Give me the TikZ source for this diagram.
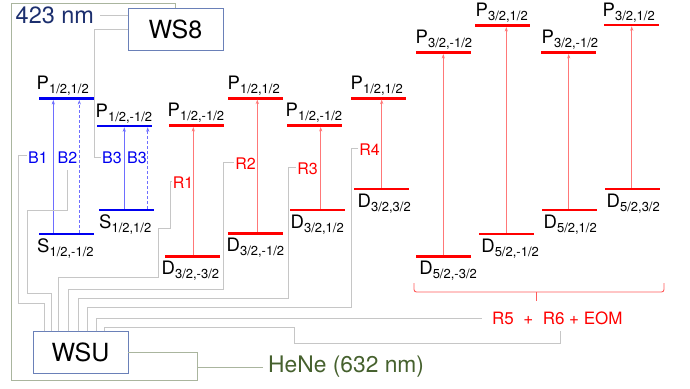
\documentclass[tikz,border=0pt]{standalone}
\usepackage{fontspec}
\setmainfont{TeX Gyre Heros}
\usetikzlibrary{arrows.meta}

\definecolor{wiregray}{HTML}{C6C6C6}
\definecolor{wiregreen}{HTML}{AAB59E}
\definecolor{boxblue}{HTML}{6A80B8}
\definecolor{labnavy}{HTML}{1C2F6E}
\definecolor{labolive}{HTML}{46612E}
\definecolor{lvred}{HTML}{FF0000}
\definecolor{lvblue}{HTML}{0000F0}
\definecolor{arred}{HTML}{FF7878}
\definecolor{arblue}{HTML}{6E6EFF}
\definecolor{brred}{HTML}{FF5A5A}

% state label: letter with a lowered, smaller subscript
\newcommand\statelab[2]{#1\raisebox{-4pt}{\fontsize{13}{13}\selectfont#2}}

\tikzset{
  stateline/.style={draw=none, fill=#1, minimum width=55pt, minimum height=2.6pt,
    inner sep=0pt, outer sep=0pt, anchor=west},
  lvR/.style={stateline=lvred},
  lvB/.style={stateline=lvblue},
  slab/.style={anchor=base west, inner sep=0pt, font=\fontsize{18.5}{18.5}\selectfont},
  tlab/.style={inner sep=1pt, font=\fontsize{16}{16}\selectfont},
  blab/.style={tlab, text=lvblue},
  rlab/.style={tlab, text=lvred},
  arR/.style={color=arred, line width=1pt, -{Stealth[length=4.5pt,width=3.2pt]}},
  arB/.style={color=arblue, line width=1pt, -{Stealth[length=4.5pt,width=3.2pt]}},
  arBd/.style={arB, dash pattern=on 3pt off 2pt},
  wire/.style={draw=wiregray, line width=0.8pt},
  gwire/.style={draw=wiregreen, line width=0.8pt},
  devbox/.style={draw=boxblue, line width=0.9pt, minimum width=95pt, minimum height=41.5pt,
    inner sep=0pt, font=\fontsize{25}{25}\selectfont},
}

\begin{document}
\begin{tikzpicture}[x=1pt,y=-1pt]
\useasboundingbox (0,0) rectangle (690,388);

% instruments
\node[devbox] (ws8) at (175.5,29.25) {WS8};
\node[devbox] (wsu) at (80.5,352.5) {WSU};
\node[anchor=west, inner sep=0pt, text=labnavy, font=\fontsize{23.5}{23.5}\selectfont] (n423) at (15.5,15) {423 nm};
\node[anchor=west, inner sep=0pt, text=labolive, font=\fontsize{22.8}{22.8}\selectfont] (hene) at (268,367) {HeNe (632 nm)};
\node[anchor=west, inner xsep=10pt, inner ysep=0pt, text=lvred, font=\fontsize{17}{17}\selectfont] (r56) at (482,318) {R5\ \ +\ \ R6 + EOM};
\coordinate (r6foot) at (560,331);

% blue levels (S1/2 -> P1/2)
\node[lvB] (bP1) at (39,98.7) {};
\node[lvB] (bP2) at (97,126) {};
\node[lvB] (bS1) at (39,234) {};
\node[lvB] (bS2) at (99,210) {};

% red levels (D3/2 -> P1/2)
\node[lvR] (rP1) at (169,125.7) {};
\node[lvR] (rD1) at (165,256.7) {};
\node[lvR] (rP2) at (228,98.3) {};
\node[lvR] (rD2) at (228,233.3) {};
\node[lvR] (rP3) at (287,125.7) {};
\node[lvR] (rD3) at (290,210) {};
\node[lvR] (rP4) at (351,98.3) {};
\node[lvR] (rD4) at (354,189) {};

% red levels (D5/2 -> P3/2)
\node[lvR] (qP1) at (416,52.7) {};
\node[lvR] (qD1) at (416,256.7) {};
\node[lvR] (qP2) at (475,25.7) {};
\node[lvR] (qD2) at (479,234) {};
\node[lvR] (qP3) at (541,52.7) {};
\node[lvR] (qD3) at (542,210) {};
\node[lvR] (qP4) at (604,25) {};
\node[lvR] (qD4) at (605,189) {};

% level names
\node[slab] (tbP1) at ([shift={(-2.5pt,8.8pt)}]bP1.west) {\statelab{P}{1/2,1/2}};
\node[slab] (tbP2) at ([shift={(-1.5pt,8.8pt)}]bP2.west) {\statelab{P}{1/2,-1/2}};
\node[slab] (tbS1) at ([shift={(-2pt,-18pt)}]bS1.west) {\statelab{S}{1/2,-1/2}};
\node[slab] (tbS2) at ([shift={(0pt,-18pt)}]bS2.west) {\statelab{S}{1/2,1/2}};

\node[slab] (trP1) at ([shift={(-1.5pt,8.8pt)}]rP1.west) {\statelab{P}{1/2,-1/2}};
\node[slab] (trP2) at ([shift={(-0.5pt,8.8pt)}]rP2.west) {\statelab{P}{1/2,1/2}};
\node[slab] (trP3) at ([shift={(-1.5pt,8.8pt)}]rP3.west) {\statelab{P}{1/2,-1/2}};
\node[slab] (trP4) at ([shift={(-0.5pt,8.8pt)}]rP4.west) {\statelab{P}{1/2,1/2}};
\node[slab] (trD1) at ([shift={(-3.5pt,-18pt)}]rD1.west) {\statelab{D}{3/2,-3/2}};
\node[slab] (trD2) at ([shift={(-1.5pt,-18pt)}]rD2.west) {\statelab{D}{3/2,-1/2}};
\node[slab] (trD3) at ([shift={(0.5pt,-18pt)}]rD3.west) {\statelab{D}{3/2,1/2}};
\node[slab] (trD4) at ([shift={(3.5pt,-18pt)}]rD4.west) {\statelab{D}{3/2,3/2}};

\node[slab] (tqP1) at ([shift={(-0.5pt,8.8pt)}]qP1.west) {\statelab{P}{3/2,-1/2}};
\node[slab] (tqP2) at ([shift={(0.5pt,8.8pt)}]qP2.west) {\statelab{P}{3/2,1/2}};
\node[slab] (tqP3) at ([shift={(0.5pt,8.8pt)}]qP3.west) {\statelab{P}{3/2,-1/2}};
\node[slab] (tqP4) at ([shift={(-1.5pt,8.8pt)}]qP4.west) {\statelab{P}{3/2,1/2}};
\node[slab] (tqD1) at ([shift={(3.2pt,-18pt)}]qD1.west) {\statelab{D}{5/2,-3/2}};
\node[slab] (tqD2) at ([shift={(2.2pt,-18pt)}]qD2.west) {\statelab{D}{5/2,-1/2}};
\node[slab] (tqD3) at ([shift={(1.5pt,-18pt)}]qD3.west) {\statelab{D}{5/2,1/2}};
\node[slab] (tqD4) at ([shift={(1.5pt,-18pt)}]qD4.west) {\statelab{D}{5/2,3/2}};

% transition feet
\coordinate (aB1) at ([xshift=-13.2pt]bS1.north);
\coordinate (aB2) at ([xshift=12.8pt]bS1.north);
\coordinate (aB3) at ([xshift=-2.2pt]bS2.north);
\coordinate (aB4) at ([xshift=21.2pt]bS2.north);
\coordinate (aR1) at ([xshift=0.8pt]rD1.north);
\coordinate (aR2) at ([xshift=1.8pt]rD2.north);
\coordinate (aR3) at ([xshift=3.2pt]rD3.north);
\coordinate (aR4) at ([xshift=0.2pt]rD4.north);
\coordinate (aQ1) at ([xshift=-0.2pt]qD1.north);
\coordinate (aQ2) at ([xshift=-0.2pt]qD2.north);
\coordinate (aQ3) at ([xshift=-0.8pt]qD3.north);
\coordinate (aQ4) at ([xshift=-0.8pt]qD4.north);

% transitions
\draw[arB]  (aB1) -- (aB1 |- bP1.south);
\draw[arBd] (aB2) -- (aB2 |- bP1.south);
\draw[arB]  (aB3) -- (aB3 |- bP2.south);
\draw[arBd] (aB4) -- (aB4 |- bP2.south);
\draw[arR] (aR1) -- (aR1 |- rP1.south);
\draw[arR] (aR2) -- (aR2 |- rP2.south);
\draw[arR] (aR3) -- (aR3 |- rP3.south);
\draw[arR] (aR4) -- (aR4 |- rP4.south);
\draw[arR] (aQ1) -- (aQ1 |- qP1.south);
\draw[arR] (aQ2) -- (aQ2 |- qP2.south);
\draw[arR] (aQ3) -- (aQ3 |- qP3.south);
\draw[arR] (aQ4) -- (aQ4 |- qP4.south);

% laser names
\node[blab] (lB1) at (38,157.5) {B1};
\node[blab] (lB2) at (67.5,157.5) {B2};
\node[blab] (lB3a) at (112,157.5) {B3};
\node[blab] (lB3b) at (137,157.5) {B3};
\node[rlab] (lR1) at (183,183) {R1};
\node[rlab] (lR2) at (245.5,164) {R2};
\node[rlab] (lR3) at (307.5,169) {R3};
\node[rlab] (lR4) at (369.5,150) {R4};

% bracket over the D5/2 transitions
\draw[brred, line width=0.9pt, rounded corners=2.5pt]
  (414,283) |- (536,292) -| (664,283);
\draw[brred, line width=0.9pt] (536,292) -- (536,301);

% wavemeter links
\draw[wire] (n423.east) ++(6,0) -- (n423.east -| ws8.west);
\draw[wire] (ws8.west) -| ([xshift=-7pt]lB3a.west) -- (lB3a.west);
\draw[gwire] (ws8.north) |- (11,3) |- (197,380) |- (wsu.east);
\coordinate (henej) at (197,367);
\draw[gwire] (hene.west) ++(-5,0) -- (henej);

% switch unit fibres
\draw[wire] ([xshift=12pt]wsu.north west) |- (18,303) |- ([yshift=2pt]lB1.west);
\draw[wire] ([xshift=19pt]wsu.north west) |- (27,293) |- (67.5,210) -- ([yshift=-5pt]lB2.south);
\draw[wire] ([xshift=26pt]wsu.north west) |- (158,277) |- (170,228) |- ([yshift=2pt]lR1.west);
\draw[wire] ([xshift=36pt]wsu.north west) |- (223,289) |- ([yshift=2pt]lR2.west);
\draw[wire] ([xshift=46pt]wsu.north west) |- (288,298) |- ([yshift=2pt]lR3.west);
\draw[wire] ([xshift=55pt]wsu.north west) |- (351,307) |- ([yshift=2pt]lR4.west);
\draw[wire] ([xshift=64pt]wsu.north west) |- (r56.west);
\draw[wire] ([xshift=72pt]wsu.north west) |- (294,327) |- (560,343) -- (r6foot);
\end{tikzpicture}
\end{document}
